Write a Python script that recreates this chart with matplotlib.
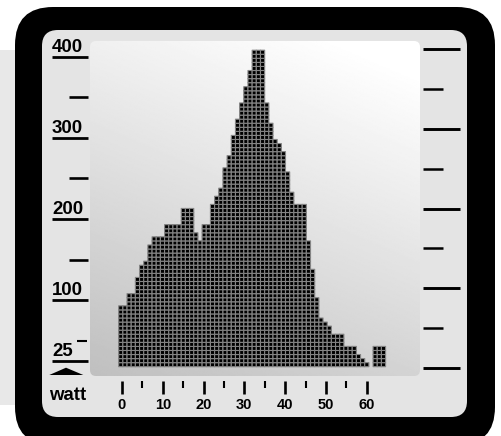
import numpy as np
import matplotlib.pyplot as plt
from matplotlib.patches import FancyBboxPatch, Polygon, Rectangle
from matplotlib.transforms import blended_transform_factory
from matplotlib.colors import ListedColormap

# histogram: one column per bin, count
counts = [95, 95, 110, 110, 130, 145, 150, 166, 177, 177, 177, 192, 192, 192, 192,
          213, 213, 213, 181, 171, 191, 191, 218, 228, 240, 261, 280, 302, 321, 344,
          362, 382, 408, 408, 408, 341, 320, 300, 292, 285, 258, 233, 218, 218, 218,
          171, 136, 104, 79, 73, 68, 58, 58, 58, 43, 43, 43, 32, 27, 22, 0, 43, 43, 43]
y_major = [400, 300, 200, 100, 25]
y_minor = [350, 250, 150]
x_major = [0, 10, 20, 30, 40, 50, 60]
x_minor = [5, 15, 25, 35, 45, 55]

BASE = 18      # floor of the cell stack
CELL_H = 5     # counts per cell
CELL_W = 1.0226
X0 = -0.81

W, H = 502, 436
fig = plt.figure(figsize=(W / 100, H / 100), dpi=100)
fig.patch.set_facecolor("white")

bg = fig.add_axes([0, 0, 1, 1])
bg.set_xlim(0, W)
bg.set_ylim(H, 0)
bg.axis("off")

ax = fig.add_axes([0, 0, 1, 1], zorder=2)
ax.patch.set_alpha(0)
ax.axis("off")
ax.set_xlim(-122 / 4.078, (W - 122) / 4.078)
ax.set_ylim((381.3 - H) / 0.8115, 381.3 / 0.8115)

# frame
bg.add_patch(Rectangle((0, 50), 40, 355, color="#e8e8e8", lw=0))
bg.add_patch(FancyBboxPatch((15, 7), 480, 438, boxstyle="round,pad=0,rounding_size=38",
                            fc="black", ec="none"))
bg.add_patch(FancyBboxPatch((42, 30), 425, 387, boxstyle="round,pad=0,rounding_size=16",
                            fc="#e4e4e4", ec="none"))
plot_box = FancyBboxPatch((90, 41), 330, 335, boxstyle="round,pad=0,rounding_size=6",
                          fc="none", ec="none")
bg.add_patch(plot_box)
gx, gy = np.meshgrid(np.linspace(0, 1, 256), np.linspace(1, 0, 256))
grad = np.clip(0.75 + 0.08 * gx + 0.19 * gy, 0, 1)
im = bg.imshow(grad, cmap="gray", vmin=0, vmax=1, extent=(90, 420, 376, 41),
               aspect="auto", interpolation="bilinear", zorder=3)
im.set_clip_path(plot_box)
bg.set_xlim(0, W)
bg.set_ylim(H, 0)

# right decorative scale
for i, yy in enumerate(np.linspace(49, 368, 9)):
    x1 = 460 if i % 2 == 0 else 443
    bg.plot([423, x1], [yy, yy], color="black", lw=2.1 if i % 2 == 0 else 1.8,
            solid_capstyle="butt")

# cells
n_cells = np.clip(np.round((np.array(counts) - BASE) / CELL_H), 0, None).astype(int)
xe = X0 + CELL_W * np.arange(len(counts) + 1)
ye = BASE + CELL_H * np.arange(n_cells.max() + 1)
rows = np.arange(n_cells.max())[:, None]
C = np.ma.masked_where(rows >= n_cells[None, :], np.ones((n_cells.max(), len(counts))))
ax.pcolor(xe, ye, C, cmap=ListedColormap(["black"]), edgecolors="#858585", linewidth=0.8)

# left scale
ty = blended_transform_factory(bg.transData, ax.transData)
for v in y_major:
    ax.plot([52, 88], [v, v], transform=ty, color="black", lw=2.0, solid_capstyle="butt")
    ax.text(52, v + 5.8, str(v), transform=ty, ha="left", va="baseline",
            fontsize=13.4, fontweight="bold", family="Liberation Sans")
for v in y_minor:
    ax.plot([69, 88], [v, v], transform=ty, color="black", lw=1.9, solid_capstyle="butt")
ax.plot([77, 87], [50, 50], transform=ty, color="black", lw=1.5, solid_capstyle="butt")

bg.add_patch(Polygon([(49.3, 375), (66, 367.7), (83.3, 375)], closed=True, fc="black"))
bg.text(49.5, 400, "watt", ha="left", va="baseline", fontsize=13.4, fontweight="bold",
        family="Liberation Sans")

# bottom scale
tx = blended_transform_factory(ax.transData, bg.transData)
for w in x_major:
    ax.plot([w, w], [381, 394.3], transform=tx, color="black", lw=1.9, solid_capstyle="butt")
    ax.text(w, 409, str(w), transform=tx, ha="center", va="baseline",
            fontsize=10.5, fontweight="bold", family="Liberation Sans")
for w in x_minor:
    ax.plot([w, w], [381, 388.3], transform=tx, color="black", lw=1.5, solid_capstyle="butt")

fig.savefig("out.png", dpi=100)
